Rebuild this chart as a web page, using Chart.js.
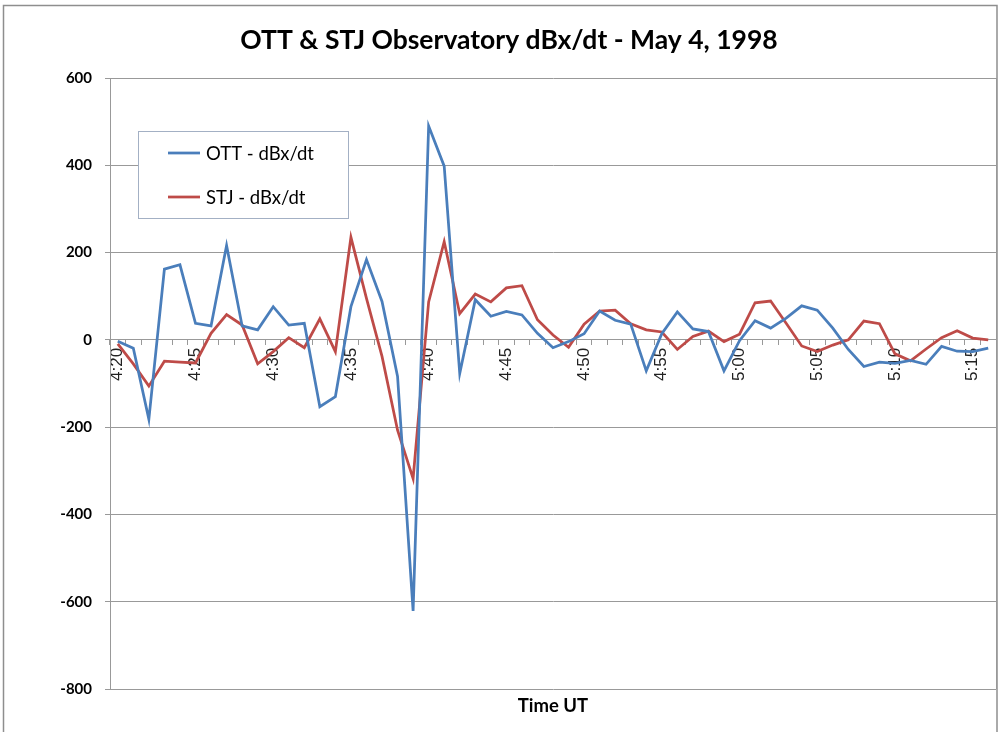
<!DOCTYPE html>
<html>
<head>
<meta charset="utf-8">
<script src="https://cdn.jsdelivr.net/npm/chart.js@4/dist/chart.umd.min.js"></script>
<style>
  html, body { margin: 0; padding: 0; background: #fff; overflow: hidden; }
  #wrap { position: relative; width: 1000px; height: 732px; }
</style>
</head>
<body>
<div id="wrap"><canvas id="c" width="1000" height="732"></canvas></div>
<script>
const timeLabels = [
  '4:20','4:21','4:22','4:23','4:24','4:25','4:26','4:27','4:28','4:29',
  '4:30','4:31','4:32','4:33','4:34','4:35','4:36','4:37','4:38','4:39',
  '4:40','4:41','4:42','4:43','4:44','4:45','4:46','4:47','4:48','4:49',
  '4:50','4:51','4:52','4:53','4:54','4:55','4:56','4:57','4:58','4:59',
  '5:00','5:01','5:02','5:03','5:04','5:05','5:06','5:07','5:08','5:09',
  '5:10','5:11','5:12','5:13','5:14','5:15','5:16'
];
const shownTickLabels = ['4:20','4:25','4:30','4:35','4:40','4:45','4:50','4:55','5:00','5:05','5:10','5:15'];
const ottValues = [
  -3, -19, -182, 162, 172, 38, 32, 216, 32, 23,
  76, 34, 38, -153, -130, 76, 184, 88, -84, -621,
  490, 398, -77, 92, 54, 65, 57, 15, -18, -4,
  14, 66, 45, 36, -71, 14, 64, 25, 19, -71,
  -2, 44, 27, 50, 78, 68, 27, -22, -61, -51,
  -54, -47, -56, -15, -26, -27, -19
];
const stjValues = [
  -9, -55, -106, -49, -51, -53, 15, 58, 34, -55,
  -27, 5, -18, 48, -27, 235, 95, -38, -207, -318,
  87, 225, 60, 105, 87, 119, 124, 46, 11, -17,
  36, 66, 68, 37, 23, 18, -22, 8, 20, -4,
  13, 85, 89, 38, -14, -27, -12, 0, 43, 37,
  -32, -48, -21, 5, 21, 4, 0
];
const seriesNames = ['OTT - dBx/dt', 'STJ - dBx/dt'];
const seriesColors = ['#4a7ebb', '#be4b48'];
const yMin = -800, yMax = 600, yStep = 200;

const frameAndLegend = {
  id: 'frameAndLegend',
  afterDraw(chart) {
    const ctx = chart.ctx;
    ctx.save();
    ctx.strokeStyle = '#8e8e8e';
    ctx.lineWidth = 1.5;
    ctx.strokeRect(3.5, 5.5, 993.5, 760);
    ctx.strokeStyle = '#999';
    ctx.lineWidth = 1;
    const a = chart.chartArea;
    ctx.beginPath();
    ctx.moveTo(Math.round(a.right) + 0.5, a.top);
    ctx.lineTo(Math.round(a.right) + 0.5, a.bottom);
    ctx.stroke();
    ctx.fillStyle = '#fff';
    ctx.fillRect(138.5, 131.5, 210, 87);
    ctx.strokeStyle = '#a3b0c4';
    ctx.lineWidth = 1;
    ctx.strokeRect(138.5, 131.5, 210, 87);
    const rowsY = [153, 197];
    chart.data.datasets.forEach((ds, i) => {
      ctx.strokeStyle = ds.borderColor;
      ctx.lineWidth = 2.75;
      ctx.beginPath();
      ctx.moveTo(168, rowsY[i]);
      ctx.lineTo(200, rowsY[i]);
      ctx.stroke();
      ctx.fillStyle = '#000';
      ctx.font = '18.5px Lato';
      ctx.textBaseline = 'middle';
      ctx.textAlign = 'left';
      ctx.fillText(ds.label, 206, rowsY[i] + 1);
    });
    ctx.restore();
  }
};

new Chart(document.getElementById('c'), {
  type: 'line',
  data: {
    labels: timeLabels,
    datasets: [
      { label: seriesNames[0], data: ottValues, borderColor: seriesColors[0], backgroundColor: seriesColors[0],
        borderWidth: 2.75, pointRadius: 0, tension: 0, fill: false },
      { label: seriesNames[1], data: stjValues, borderColor: seriesColors[1], backgroundColor: seriesColors[1],
        borderWidth: 2.75, pointRadius: 0, tension: 0, fill: false }
    ]
  },
  options: {
    responsive: false,
    animation: false,
    events: [],
    layout: { padding: { left: 22, right: 4, top: 0, bottom: 0 } },
    plugins: {
      legend: { display: false },
      tooltip: { enabled: false },
      title: {
        display: true,
        text: 'OTT & STJ Observatory dBx/dt - May 4, 1998',
        color: '#000',
        font: { family: 'Lato', size: 26.5, weight: 'bold', lineHeight: 1.2 },
        padding: { top: 24.1, bottom: 22.1 }
      },
      subtitle: {
        display: true,
        position: 'bottom',
        fullSize: false,
        text: 'Time UT',
        color: '#000',
        font: { family: 'Lato', size: 18.5, weight: 'bold', lineHeight: 1.2 },
        padding: { top: 6, bottom: 14.8 }
      }
    },
    scales: {
      x: {
        type: 'category',
        position: { y: 0 },
        offset: true,
        afterFit(scale) { scale.paddingLeft = 0; scale.paddingRight = 0; },
        grid: { display: true, drawOnChartArea: false, drawTicks: true, tickLength: 5, offset: true, color: '#999' },
        border: { display: true, color: '#999', width: 1 },
        ticks: {
          autoSkip: false,
          maxRotation: 90,
          minRotation: 90,
          padding: 3,
          color: '#222',
          font: { family: 'Liberation Sans', size: 17 },
          callback: function (value) {
            const lab = this.getLabelForValue(value);
            return shownTickLabels.includes(lab) ? lab : '';
          }
        }
      },
      y: {
        min: yMin,
        max: yMax,
        afterFit(scale) { scale.width = 88; },
        grid: { color: '#999', lineWidth: 1, drawTicks: true, tickLength: 5 },
        border: { display: true, color: '#999', width: 1 },
        ticks: {
          stepSize: yStep,
          padding: 13,
          color: '#000',
          font: { family: 'Lato', size: 15, weight: 'bold' }
        }
      }
    }
  },
  plugins: [frameAndLegend]
});
</script>
</body>
</html>
